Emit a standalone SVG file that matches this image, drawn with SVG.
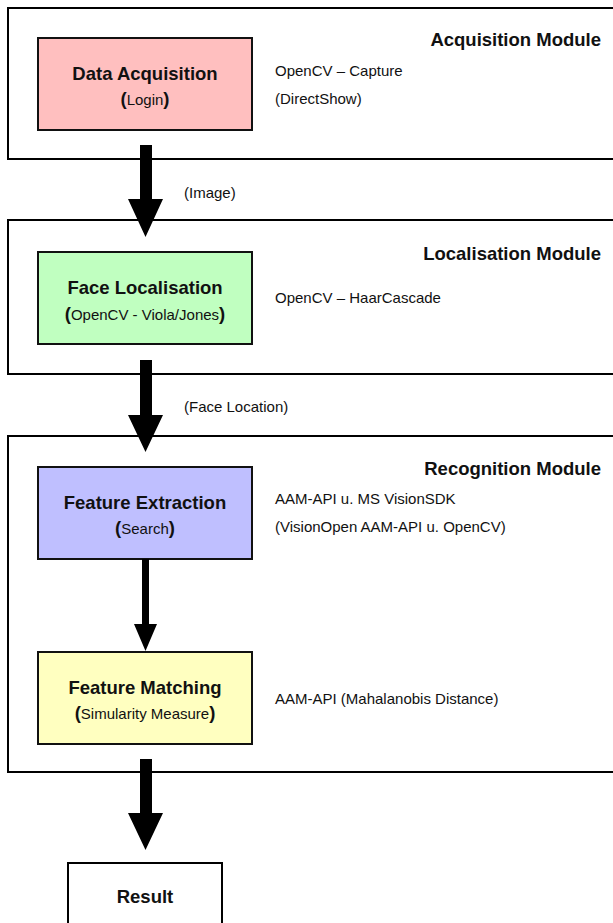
<svg xmlns="http://www.w3.org/2000/svg" width="613" height="923" viewBox="0 0 613 923">
<style>
.mod{fill:#fff;stroke:#000;stroke-width:2}
.node{stroke:#111;stroke-width:2}
.t{font-family:"Liberation Sans",Arial,sans-serif;fill:#111}
.b{font-weight:bold;font-size:18.5px}
.r{font-size:15px}
.c{text-anchor:middle}
.e{text-anchor:end}
.arr{fill:#000}
</style>
<rect width="613" height="923" fill="#fff"/>
<g id="acquisition-module">
<rect class="mod" x="8" y="8" width="640" height="151"/>
<text class="t b e" x="601" y="46">Acquisition Module</text>
<text class="t r" x="275" y="76">OpenCV – Capture</text>
<text class="t r" x="275" y="104">(DirectShow)</text>
</g>
<g id="data-acquisition">
<rect class="node" x="38" y="38" width="214" height="92" fill="#FFBFBF"/>
<text class="t b c" x="145" y="80">Data Acquisition</text>
<text class="t c" x="145" y="105"><tspan class="b">(</tspan><tspan class="r">Login</tspan><tspan class="b">)</tspan></text>
</g>
<g id="localisation-module">
<rect class="mod" x="8" y="220" width="640" height="154"/>
<text class="t b e" x="601" y="260">Localisation Module</text>
<text class="t r" x="275" y="303">OpenCV – HaarCascade</text>
</g>
<g id="face-localisation">
<rect class="node" x="38" y="252" width="214" height="92" fill="#C0FFC0"/>
<text class="t b c" x="145" y="294">Face Localisation</text>
<text class="t c" x="145" y="320"><tspan class="b">(</tspan><tspan class="r">OpenCV - Viola/Jones</tspan><tspan class="b">)</tspan></text>
</g>
<g id="recognition-module">
<rect class="mod" x="8" y="436" width="640" height="336"/>
<text class="t b e" x="601" y="475">Recognition Module</text>
<text class="t r" x="275" y="504">AAM-API u. MS VisionSDK</text>
<text class="t r" x="275" y="532">(VisionOpen AAM-API u. OpenCV)</text>
<text class="t r" x="275" y="704">AAM-API (Mahalanobis Distance)</text>
</g>
<g id="feature-extraction">
<rect class="node" x="38" y="467" width="214" height="92" fill="#BFBFFF"/>
<text class="t b c" x="145" y="509">Feature Extraction</text>
<text class="t c" x="145" y="534"><tspan class="b">(</tspan><tspan class="r">Search</tspan><tspan class="b">)</tspan></text>
</g>
<g id="feature-matching">
<rect class="node" x="38" y="652" width="214" height="92" fill="#FFFFC0"/>
<text class="t b c" x="145" y="694">Feature Matching</text>
<text class="t c" x="145" y="719"><tspan class="b">(</tspan><tspan class="r">Simularity Measure</tspan><tspan class="b">)</tspan></text>
</g>
<g id="result">
<rect class="mod" x="68" y="863" width="154" height="80"/>
<text class="t b c" x="145" y="903">Result</text>
</g>
<g id="connectors">
<polygon class="arr" points="140,145 152,145 152,199 163,199 145.5,237 128,199 140,199"/>
<text class="t r" x="184" y="198">(Image)</text>
<polygon class="arr" points="140,360 152,360 152,415 163,415 145.5,452 128,415 140,415"/>
<text class="t r" x="184" y="412">(Face Location)</text>
<polygon class="arr" points="142,559 149,559 149,624 157,624 145.5,651 134,624 142,624"/>
<polygon class="arr" points="140,759 152,759 152,813 163,813 145.5,850 128,813 140,813"/>
</g>
</svg>
